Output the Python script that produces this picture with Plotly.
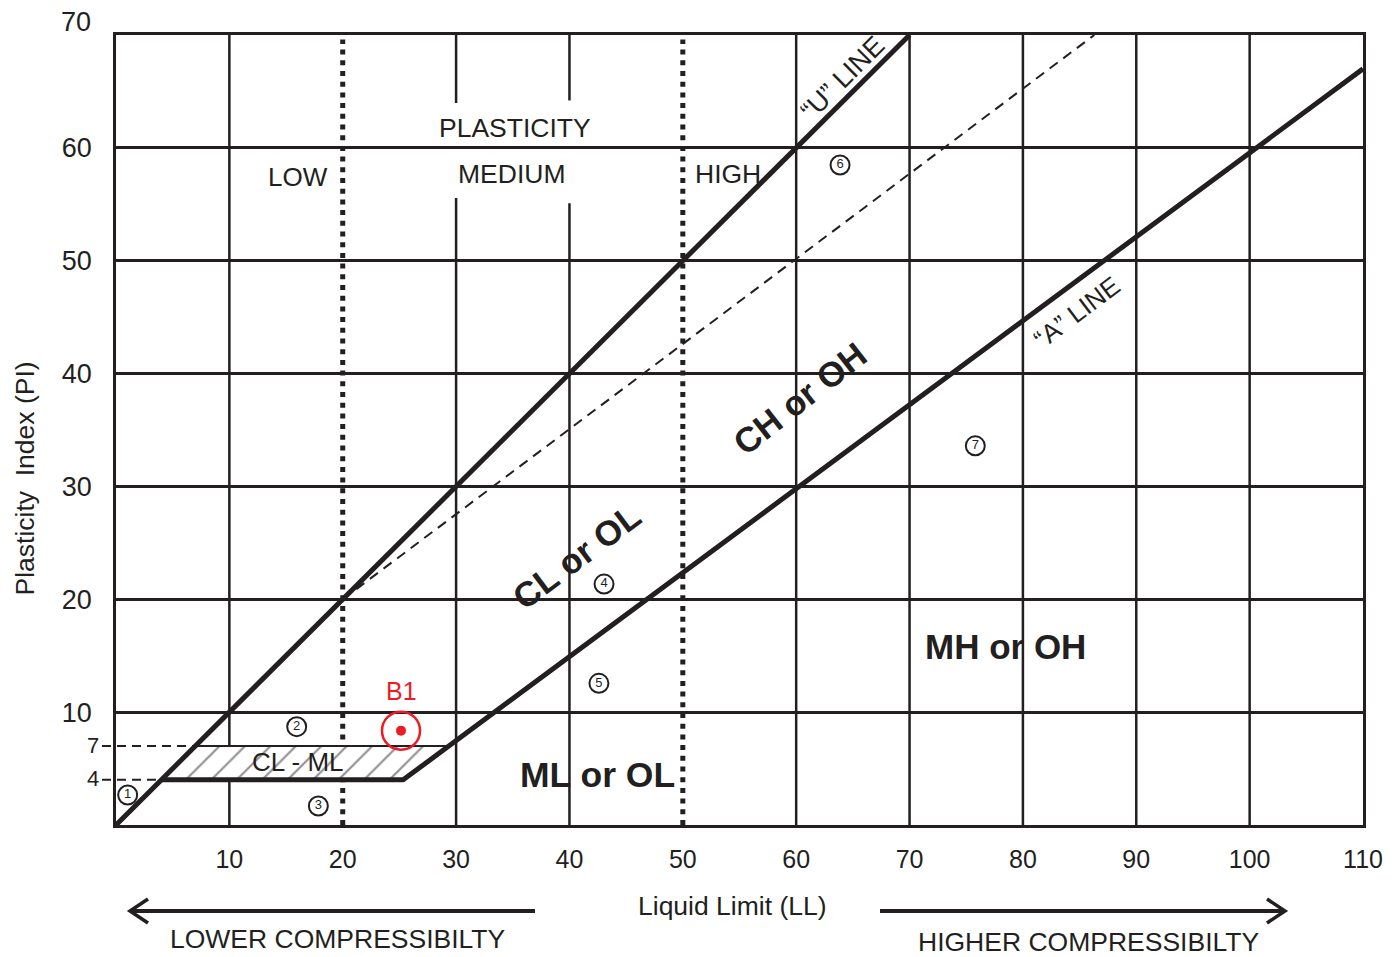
import plotly.graph_objects as go

# ---------------- data ----------------
U_LINE_LL = [0, 70]
U_LINE_PI = [0, 70]
A_LINE_LL = [4, 25.33, 110]
A_LINE_PI = [4, 4, 67]
DASH_LINE_LL = [20, 86.3]
DASH_LINE_PI = [20, 70]
CLML_LL = [4, 25.33, 29.33, 7, 4]
CLML_PI = [4, 4, 7, 7, 4]
CLML_TOP_LL = [7, 29.33]
CLML_TOP_PI = [7, 7]
SAMPLE_LL = [1.03, 15.94, 17.85, 43.05, 42.6, 63.87, 75.8]
SAMPLE_PI = [2.66, 8.71, 1.68, 21.35, 12.55, 58.48, 33.6]
SAMPLE_LABELS = ["1", "2", "3", "4", "5", "6", "7"]
B1_LL = [25.14]
B1_PI = [8.36]
X_TICKS = [10, 20, 30, 40, 50, 60, 70, 80, 90, 100, 110]
Y_TICKS = [10, 20, 30, 40, 50, 60]
GRID_X_FULL = [10, 60, 70, 80, 90, 100]
GRID_X_SPLIT = [(30, 55.55, 63.97), (40, 55.1, 64.2)]
DOTTED_X = [20, 50]

INK = "#231f20"
RED = "#ed1c24"
FONT = "Liberation Sans, Arial, Helvetica, sans-serif"

# page has an 8px body margin; the figure is sized so the plot area lands
# at page pixels x 116..1363, y 35..825
OFF = 8
W, H = 1397 - OFF, 957 - OFF
L, R, T, B = 116 - OFF, 34, 35 - OFF, 132
PW, PH = W - L - R, H - T - B


def px(xp):
    return (xp - 116) / PW


def py(yp):
    return (825 - yp) / PH


fig = go.Figure()

# hatched CL-ML zone
fig.add_trace(go.Scatter(
    x=CLML_LL, y=CLML_PI, mode="lines", fill="toself",
    line=dict(width=0, color=INK), fillcolor="white",
    fillpattern=dict(shape="/", fgcolor=INK, bgcolor="white", size=18, solidity=0.12),
    hoverinfo="skip", showlegend=False))
fig.add_trace(go.Scatter(x=CLML_TOP_LL, y=CLML_TOP_PI, mode="lines",
                         line=dict(color=INK, width=2), showlegend=False))
fig.add_trace(go.Scatter(x=DASH_LINE_LL, y=DASH_LINE_PI, mode="lines",
                         line=dict(color=INK, width=2, dash="10px,7px"), showlegend=False))
fig.add_trace(go.Scatter(x=U_LINE_LL, y=U_LINE_PI, mode="lines",
                         line=dict(color=INK, width=5), showlegend=False))
fig.add_trace(go.Scatter(x=A_LINE_LL, y=A_LINE_PI, mode="lines",
                         line=dict(color=INK, width=5), showlegend=False))
fig.add_trace(go.Scatter(
    x=SAMPLE_LL, y=SAMPLE_PI, mode="markers+text", text=SAMPLE_LABELS,
    textposition="middle center", textfont=dict(family=FONT, size=13, color=INK),
    marker=dict(symbol="circle", size=19, color="white", line=dict(color=INK, width=2)),
    showlegend=False, cliponaxis=False))
fig.add_trace(go.Scatter(
    x=B1_LL, y=B1_PI, mode="markers",
    marker=dict(symbol="circle-open", size=38, color=RED, line=dict(color=RED, width=2.5)),
    showlegend=False, cliponaxis=False))
fig.add_trace(go.Scatter(
    x=B1_LL, y=B1_PI, mode="markers",
    marker=dict(symbol="circle", size=10, color=RED), showlegend=False))

shapes = []
for gx in GRID_X_FULL:
    shapes.append(dict(type="line", xref="x", yref="y", x0=gx, x1=gx, y0=0, y1=70,
                       line=dict(color=INK, width=2.5), layer="below"))
for gx, lo, hi in GRID_X_SPLIT:
    shapes.append(dict(type="line", xref="x", yref="y", x0=gx, x1=gx, y0=0, y1=lo,
                       line=dict(color=INK, width=2.5), layer="below"))
    shapes.append(dict(type="line", xref="x", yref="y", x0=gx, x1=gx, y0=hi, y1=70,
                       line=dict(color=INK, width=2.5), layer="below"))
for dx in DOTTED_X:
    shapes.append(dict(type="line", xref="x", yref="y", x0=dx, x1=dx, y0=0, y1=69.6,
                       line=dict(color=INK, width=5, dash="5px,5.7px"), layer="below"))
# dashed guide lines at PI 4 and 7
for v in (4, 7):
    shapes.append(dict(type="line", xref="paper", yref="paper", x0=px(102), x1=v / 110,
                       y0=v / 70, y1=v / 70, line=dict(color=INK, width=2, dash="9px,6px"),
                       layer="below"))
# compressibility arrows
ya = py(911)
shapes.append(dict(type="path", xref="paper", yref="paper",
                   path=f"M {px(130)} {ya} L {px(535)} {ya}",
                   line=dict(color=INK, width=4)))
shapes.append(dict(type="path", xref="paper", yref="paper",
                   path=f"M {px(148)} {py(899)} L {px(130)} {ya} L {px(148)} {py(923)}",
                   line=dict(color=INK, width=3.5)))
shapes.append(dict(type="path", xref="paper", yref="paper",
                   path=f"M {px(880)} {ya} L {px(1285)} {ya}",
                   line=dict(color=INK, width=4)))
shapes.append(dict(type="path", xref="paper", yref="paper",
                   path=f"M {px(1267)} {py(899)} L {px(1285)} {ya} L {px(1267)} {py(923)}",
                   line=dict(color=INK, width=3.5)))

ann = []


def text(x, y, s, size, bold=False, angle=0, color=INK, xref="x", yref="y",
         xanchor="center"):
    ann.append(dict(x=x, y=y, xref=xref, yref=yref, text=f"<b>{s}</b>" if bold else s,
                    showarrow=False, textangle=angle, xanchor=xanchor, yanchor="middle",
                    font=dict(family=FONT, size=size, color=color)))


text(16.05, 57.4, "LOW", 26)
text(35.2, 61.8, "PLASTICITY", 26.5)
text(34.9, 57.7, "MEDIUM", 26.5)
text(54.0, 57.7, "HIGH", 26.5)
text(64.1, 66.2, "\u201cU\u201d LINE", 27, angle=-45)
text(84.8, 45.45, "\u201cA\u201d LINE", 26, angle=-37)
text(60.3, 37.8, "CH or OH", 35, bold=True, angle=-38)
text(40.6, 23.8, "CL or OL", 35, bold=True, angle=-37)
text(78.46, 15.8, "MH or OH", 35, bold=True)
text(42.5, 4.43, "ML or OL", 35.5, bold=True)
text(16.05, 5.6, "CL - ML", 26)
text(25.14, 11.9, "B1", 25, color=RED)
# extra y labels
text(px(93), py(22), "70", 27, xref="paper", yref="paper", xanchor="right")
text(px(101), 7.05, "7", 22, xref="paper", xanchor="right")
text(px(101), 4.1, "4", 22, xref="paper", xanchor="right")
# axis titles & notes
text(px(25), 30.7, "Plasticity\u00a0 Index (PI)", 26.5, angle=-90, xref="paper")
text(px(732), py(906), "Liquid Limit (LL)", 26.5, xref="paper", yref="paper")
text(px(338), py(939), "LOWER COMPRESSIBILTY", 26.5, xref="paper", yref="paper")
text(px(1088), py(942), "HIGHER COMPRESSIBILTY", 26.5, xref="paper", yref="paper")

fig.update_layout(
    width=W, height=H, margin=dict(l=L, r=R, t=T, b=B, autoexpand=False),
    paper_bgcolor="white", plot_bgcolor="white",
    shapes=shapes, annotations=ann, showlegend=False,
    xaxis=dict(range=[0, 110], tickvals=X_TICKS, ticktext=[str(v) for v in X_TICKS],
               showgrid=False, zeroline=False, showline=True, mirror=True,
               linecolor=INK, linewidth=2.5, ticks="", ticklabelstandoff=10,
               tickfont=dict(family=FONT, size=25, color=INK), fixedrange=True),
    yaxis=dict(range=[0, 70], tickvals=Y_TICKS, ticktext=[str(v) for v in Y_TICKS],
               showgrid=True, gridcolor=INK, gridwidth=2.5, zeroline=False,
               showline=True, mirror=True, linecolor=INK, linewidth=2.5, ticks="",
               ticklabelstandoff=16, tickfont=dict(family=FONT, size=27, color=INK),
               fixedrange=True),
)

fig.write_html("out.html")
